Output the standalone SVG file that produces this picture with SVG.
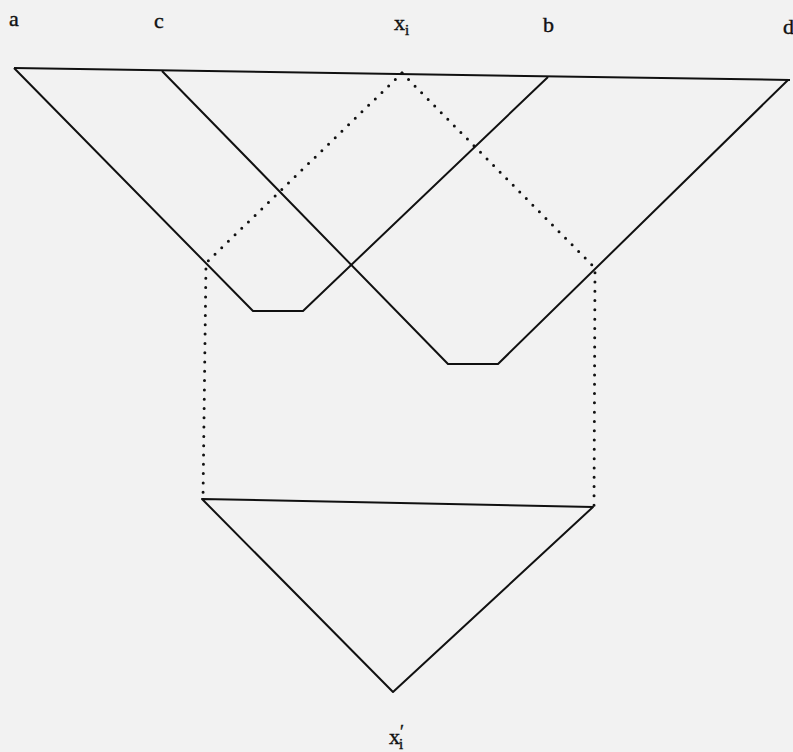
<svg xmlns="http://www.w3.org/2000/svg" width="793" height="752" viewBox="0 0 793 752">
<style>
.s{fill:none;stroke:#111;stroke-width:2;stroke-linejoin:round}
.d{fill:none;stroke:#111;stroke-width:3;stroke-linecap:round;stroke-dasharray:0 9.3}
text{font-family:"Liberation Serif","Times New Roman",serif;font-size:22px;fill:#111;stroke:#111;stroke-width:0.4}
.sub{font-size:15px}
</style>
<rect width="793" height="752" fill="#f2f2f2"/>
<g id="connectors">
<path class="s" d="M14 68 L790 80"/>
<path class="s" d="M14 68 L253 311 L303 311 L548 77"/>
<path class="s" d="M162 71 L448 364 L498 364 L788 80"/>
<path class="d" d="M402 73 L206 263 L203 498"/>
<path class="d" d="M402 73 L595 268 L594 507"/>
<path class="s" d="M202 499 L593 507 L393 692 Z"/>
</g>
<g id="label-a"><text x="9" y="26">a</text></g>
<g id="label-c"><text x="154" y="28">c</text></g>
<g id="label-xi"><text x="394" y="30">x<tspan class="sub" dy="5">i</tspan></text></g>
<g id="label-b"><text x="543" y="32">b</text></g>
<g id="label-d"><text x="783" y="34">d</text></g>
<g id="label-xpi"><text x="389" y="744">x<tspan dy="-6" style="font-size:18px">′</tspan><tspan class="sub" dx="-5" dy="11">i</tspan></text></g>
</svg>
